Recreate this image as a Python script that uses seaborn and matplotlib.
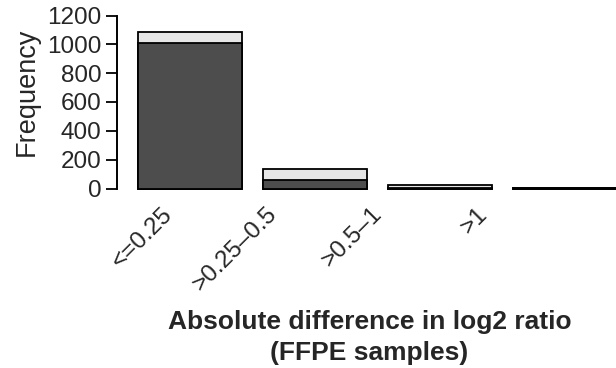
import numpy as np
import pandas as pd
import matplotlib
matplotlib.use("Agg")
import matplotlib.pyplot as plt
import seaborn as sns

# values
categories = ["<=0.25", ">0.25\u20130.5", ">0.5\u20131", ">1"]
total_counts = [1085, 136, 24, 3]
dark_counts = [1010, 57, 3, 1]
y_ticks = [0, 200, 400, 600, 800, 1000, 1200]

df = pd.DataFrame({"bin": categories, "total": total_counts, "dark": dark_counts})

sns.set_style("ticks")
plt.rcParams["font.family"] = ["Liberation Sans", "DejaVu Sans"]

W, H = 616, 368
fig = plt.figure(figsize=(W / 100, H / 100), dpi=100)

# axes placed in pixels: spine at x=117, zero at y=188.5, 1200 at y=15.5
px_per_unit = 173 / 1200
ymin, ymax = -5, 1210
left, right = 117, 616
bottom_px = 188.5 + (-ymin) * px_per_unit
height_px = (ymax - ymin) * px_per_unit
ax = fig.add_axes([left / W, (H - bottom_px) / H, (right - left) / W, height_px / H])

bar_w = 1 / 1.2
edge = dict(edgecolor="black", linewidth=1.3)
sns.barplot(data=df, x="bin", y="total", color="#E6E6E6", width=bar_w,
            saturation=1, ax=ax, **edge)
sns.barplot(data=df, x="bin", y="dark", color="#4D4D4D", width=bar_w,
            saturation=1, ax=ax, **edge)
for p in ax.patches:
    p.set_clip_on(False)

unit_px = 125
ax.set_xlim(-73 / unit_px, 3 + (616 - 565) / unit_px)
ax.set_ylim(ymin, ymax)

ax.set_yticks(y_ticks)
ax.set_yticklabels([str(t) for t in y_ticks], fontsize=17.5)
ax.tick_params(axis="y", length=8, width=1.3, pad=3, color="black")
ax.set_xticks([])
ax.set_xlabel("")
ax.set_ylabel("")
for s in ["top", "right", "bottom"]:
    ax.spines[s].set_visible(False)
ax.spines["left"].set_bounds(0, 1200)
ax.spines["left"].set_linewidth(1.4)
ax.spines["left"].set_color("black")

# rotated category labels, spaced a bit tighter than the bars
for i, lab in enumerate(categories):
    ax.text(-21 / unit_px + i * 105 / unit_px, -22.5 / px_per_unit, lab,
            rotation=45, rotation_mode="anchor", ha="right", va="center",
            fontsize=17.5, clip_on=False)

fig.text(27 / W, (H - 91.5) / H, "Frequency", rotation=90,
         ha="center", va="center", fontsize=19.5)
fig.text(369.5 / W, (H - 310.5) / H,
         "Absolute difference in log2 ratio\n(FFPE samples)",
         ha="center", va="top", fontsize=19, fontweight="bold",
         linespacing=1.32)

fig.savefig("out.png", dpi=100)
